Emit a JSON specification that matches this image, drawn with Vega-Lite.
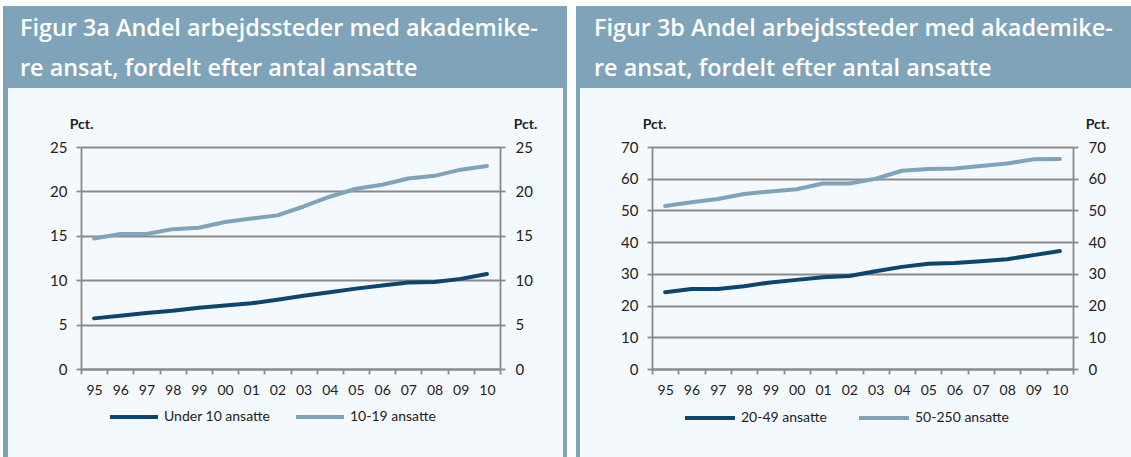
{
  "$schema": "https://vega.github.io/schema/vega-lite/v6.json",
  "background": "#f4f9fd",
  "padding": 0,
  "spacing": 0,
  "config": {"view": {"stroke": null}, "font": "Lato", "concat": {"spacing": 0}},
  "resolve": {"scale": {"color": "independent"}, "legend": {"color": "independent"}},
  "data": {"values": [{}]},
  "datasets": {
    "a": [
      {"year": "95", "series": "Under 10 ansatte", "value": 5.7},
      {"year": "96", "series": "Under 10 ansatte", "value": 6.0},
      {"year": "97", "series": "Under 10 ansatte", "value": 6.3},
      {"year": "98", "series": "Under 10 ansatte", "value": 6.55},
      {"year": "99", "series": "Under 10 ansatte", "value": 6.9},
      {"year": "00", "series": "Under 10 ansatte", "value": 7.15},
      {"year": "01", "series": "Under 10 ansatte", "value": 7.4},
      {"year": "02", "series": "Under 10 ansatte", "value": 7.8},
      {"year": "03", "series": "Under 10 ansatte", "value": 8.25},
      {"year": "04", "series": "Under 10 ansatte", "value": 8.65},
      {"year": "05", "series": "Under 10 ansatte", "value": 9.05},
      {"year": "06", "series": "Under 10 ansatte", "value": 9.4},
      {"year": "07", "series": "Under 10 ansatte", "value": 9.75},
      {"year": "08", "series": "Under 10 ansatte", "value": 9.8},
      {"year": "09", "series": "Under 10 ansatte", "value": 10.15},
      {"year": "10", "series": "Under 10 ansatte", "value": 10.7},
      {"year": "95", "series": "10-19 ansatte", "value": 14.7},
      {"year": "96", "series": "10-19 ansatte", "value": 15.2},
      {"year": "97", "series": "10-19 ansatte", "value": 15.2},
      {"year": "98", "series": "10-19 ansatte", "value": 15.75},
      {"year": "99", "series": "10-19 ansatte", "value": 15.9},
      {"year": "00", "series": "10-19 ansatte", "value": 16.55},
      {"year": "01", "series": "10-19 ansatte", "value": 16.95},
      {"year": "02", "series": "10-19 ansatte", "value": 17.3},
      {"year": "03", "series": "10-19 ansatte", "value": 18.3},
      {"year": "04", "series": "10-19 ansatte", "value": 19.4},
      {"year": "05", "series": "10-19 ansatte", "value": 20.3},
      {"year": "06", "series": "10-19 ansatte", "value": 20.75},
      {"year": "07", "series": "10-19 ansatte", "value": 21.45},
      {"year": "08", "series": "10-19 ansatte", "value": 21.75},
      {"year": "09", "series": "10-19 ansatte", "value": 22.45},
      {"year": "10", "series": "10-19 ansatte", "value": 22.85}
    ],
    "b": [
      {"year": "95", "series": "20-49 ansatte", "value": 24.2},
      {"year": "96", "series": "20-49 ansatte", "value": 25.25},
      {"year": "97", "series": "20-49 ansatte", "value": 25.2},
      {"year": "98", "series": "20-49 ansatte", "value": 26.1},
      {"year": "99", "series": "20-49 ansatte", "value": 27.3},
      {"year": "00", "series": "20-49 ansatte", "value": 28.1},
      {"year": "01", "series": "20-49 ansatte", "value": 28.9},
      {"year": "02", "series": "20-49 ansatte", "value": 29.3},
      {"year": "03", "series": "20-49 ansatte", "value": 30.8},
      {"year": "04", "series": "20-49 ansatte", "value": 32.2},
      {"year": "05", "series": "20-49 ansatte", "value": 33.2},
      {"year": "06", "series": "20-49 ansatte", "value": 33.4},
      {"year": "07", "series": "20-49 ansatte", "value": 34.0},
      {"year": "08", "series": "20-49 ansatte", "value": 34.6},
      {"year": "09", "series": "20-49 ansatte", "value": 35.9},
      {"year": "10", "series": "20-49 ansatte", "value": 37.2},
      {"year": "95", "series": "50-250 ansatte", "value": 51.4},
      {"year": "96", "series": "50-250 ansatte", "value": 52.6},
      {"year": "97", "series": "50-250 ansatte", "value": 53.6},
      {"year": "98", "series": "50-250 ansatte", "value": 55.2},
      {"year": "99", "series": "50-250 ansatte", "value": 56.0},
      {"year": "00", "series": "50-250 ansatte", "value": 56.7},
      {"year": "01", "series": "50-250 ansatte", "value": 58.5},
      {"year": "02", "series": "50-250 ansatte", "value": 58.5},
      {"year": "03", "series": "50-250 ansatte", "value": 60.0},
      {"year": "04", "series": "50-250 ansatte", "value": 62.5},
      {"year": "05", "series": "50-250 ansatte", "value": 63.1},
      {"year": "06", "series": "50-250 ansatte", "value": 63.2},
      {"year": "07", "series": "50-250 ansatte", "value": 64.0},
      {"year": "08", "series": "50-250 ansatte", "value": 64.8},
      {"year": "09", "series": "50-250 ansatte", "value": 66.1},
      {"year": "10", "series": "50-250 ansatte", "value": 66.2}
    ]
  },
  "vconcat": [
    {"width": 1131, "height": 6, "mark": {"type": "rect", "color": "#ffffff"}, "encoding": {}},
    {
      "spacing": 0,
      "resolve": {"scale": {"color": "independent"}, "legend": {"color": "independent"}},
      "hconcat": [
        {"width": 3, "height": 451, "mark": {"type": "rect", "color": "#ffffff"}, "encoding": {}},
        {"width": 5, "height": 451, "mark": {"type": "rect", "color": "#7fa3b8"}, "encoding": {}},
        {
          "spacing": 0,
          "resolve": {"scale": {"color": "independent"}, "legend": {"color": "independent"}},
          "vconcat": [
            {
              "width": 555, "height": 82, "view": {"fill": "#7fa3b8"},
              "data": {"values": [{"line": 1, "text": "Figur 3a Andel arbejdssteder med akademike-"}, {"line": 2, "text": "re ansat, fordelt efter antal ansatte"}]},
              "mark": {"type": "text", "align": "left", "baseline": "alphabetic", "color": "#ffffff", "font": "Open Sans", "fontWeight": 600, "fontSize": 23.4, "dx": 12},
              "encoding": {
                "x": {"datum": 0, "type": "quantitative", "scale": {"domain": [0, 1], "nice": false}, "axis": null},
                "y": {"field": "line", "type": "quantitative", "scale": {"domain": [0.25, 2.3], "reverse": true, "nice": false, "zero": false}, "axis": null},
                "text": {"field": "text"}
              }
            },
            {"width": 555, "height": 29, "mark": {"type": "rect", "opacity": 0}, "encoding": {}},
            {
              "spacing": 0,
              "bounds": "flush",
              "resolve": {"scale": {"color": "independent"}, "legend": {"color": "independent"}},
              "hconcat": [
                {"width": 73, "height": 222, "mark": {"type": "rect", "opacity": 0}, "encoding": {}},
                {
                  "width": 419, "height": 222,
                  "data": {"name": "a"},
                  "layer": [
                    {
                      "mark": {"type": "line", "strokeWidth": 4, "strokeCap": "round", "strokeJoin": "round"},
                      "encoding": {
                        "x": {"field": "year", "type": "ordinal", "sort": null, "scale": {"type": "band", "paddingInner": 0, "paddingOuter": 0},
                          "axis": {"title": null, "tickBand": "extent", "labelAngle": 0, "grid": false, "domainColor": "#8a8a8a", "domainWidth": 1.8, "tickColor": "#8a8a8a", "tickWidth": 1.8, "tickSize": 5, "labelFontSize": 14, "labelColor": "#222222", "labelPadding": 9}},
                        "y": {"field": "value", "type": "quantitative", "scale": {"domain": [0, 25], "nice": false},
                          "axis": {"values": [0, 5, 10, 15, 20, 25], "title": "Pct.", "titleAngle": 0, "titleX": 0, "titleY": -19, "titleAlign": "center", "titleBaseline": "alphabetic", "titleFontWeight": "bold", "titleFontSize": 14, "titleColor": "#222222", "grid": true, "gridColor": "#8a8a8a", "gridWidth": 1.8, "domainColor": "#8a8a8a", "domainWidth": 1.8, "tickColor": "#8a8a8a", "tickWidth": 1.8, "tickSize": 5, "labelPadding": 9, "labelFontSize": 15, "labelColor": "#222222"}},
                        "color": {"field": "series", "type": "nominal", "scale": {"domain": ["Under 10 ansatte", "10-19 ansatte"], "range": ["#0b4570", "#7fa3b8"]},
                          "legend": {"title": null, "orient": "none", "legendX": 27, "legendY": 244, "direction": "horizontal", "symbolType": "stroke", "symbolSize": 2304, "symbolStrokeWidth": 4, "labelFontSize": 14, "labelColor": "#222222", "columnPadding": 17, "padding": 0, "labelOffset": 4}}
                      }
                    },
                    {
                      "mark": {"type": "line", "opacity": 0},
                      "encoding": {
                        "x": {"field": "year", "type": "ordinal", "sort": null},
                        "y": {"field": "value", "type": "quantitative",
                          "axis": {"orient": "right", "values": [0, 5, 10, 15, 20, 25], "title": "Pct.", "titleAngle": 0, "titleX": 25, "titleY": -19, "titleAlign": "center", "titleBaseline": "alphabetic", "titleFontWeight": "bold", "titleFontSize": 14, "titleColor": "#222222", "grid": false, "domainColor": "#8a8a8a", "domainWidth": 1.8, "tickColor": "#8a8a8a", "tickWidth": 1.8, "tickSize": 5, "labelPadding": 10, "labelFontSize": 15, "labelColor": "#222222"}},
                        "detail": {"field": "series"}
                      }
                    }
                  ],
                  "resolve": {"axis": {"y": "independent"}}
                },
                {"width": 63, "height": 222, "mark": {"type": "rect", "opacity": 0}, "encoding": {}}
              ]
            }
          ]
        },
        {"width": 4, "height": 451, "mark": {"type": "rect", "color": "#7fa3b8"}, "encoding": {}},
        {"width": 9, "height": 451, "mark": {"type": "rect", "color": "#ffffff"}, "encoding": {}},
        {"width": 4, "height": 451, "mark": {"type": "rect", "color": "#7fa3b8"}, "encoding": {}},
        {
          "spacing": 0,
          "resolve": {"scale": {"color": "independent"}, "legend": {"color": "independent"}},
          "vconcat": [
            {
              "width": 551, "height": 82, "view": {"fill": "#7fa3b8"},
              "data": {"values": [{"line": 1, "text": "Figur 3b Andel arbejdssteder med akademike-"}, {"line": 2, "text": "re ansat, fordelt efter antal ansatte"}]},
              "mark": {"type": "text", "align": "left", "baseline": "alphabetic", "color": "#ffffff", "font": "Open Sans", "fontWeight": 600, "fontSize": 23.4, "dx": 14},
              "encoding": {
                "x": {"datum": 0, "type": "quantitative", "scale": {"domain": [0, 1], "nice": false}, "axis": null},
                "y": {"field": "line", "type": "quantitative", "scale": {"domain": [0.25, 2.3], "reverse": true, "nice": false, "zero": false}, "axis": null},
                "text": {"field": "text"}
              }
            },
            {"width": 551, "height": 29, "mark": {"type": "rect", "opacity": 0}, "encoding": {}},
            {
              "spacing": 0,
              "bounds": "flush",
              "resolve": {"scale": {"color": "independent"}, "legend": {"color": "independent"}},
              "hconcat": [
                {"width": 72, "height": 222, "mark": {"type": "rect", "opacity": 0}, "encoding": {}},
                {
                  "width": 421, "height": 222,
                  "data": {"name": "b"},
                  "layer": [
                    {
                      "mark": {"type": "line", "strokeWidth": 4, "strokeCap": "round", "strokeJoin": "round"},
                      "encoding": {
                        "x": {"field": "year", "type": "ordinal", "sort": null, "scale": {"type": "band", "paddingInner": 0, "paddingOuter": 0},
                          "axis": {"title": null, "tickBand": "extent", "labelAngle": 0, "grid": false, "domainColor": "#8a8a8a", "domainWidth": 1.8, "tickColor": "#8a8a8a", "tickWidth": 1.8, "tickSize": 5, "labelFontSize": 14, "labelColor": "#222222", "labelPadding": 9}},
                        "y": {"field": "value", "type": "quantitative", "scale": {"domain": [0, 70], "nice": false},
                          "axis": {"values": [0, 10, 20, 30, 40, 50, 60, 70], "title": "Pct.", "titleAngle": 0, "titleX": 2, "titleY": -19, "titleAlign": "center", "titleBaseline": "alphabetic", "titleFontWeight": "bold", "titleFontSize": 14, "titleColor": "#222222", "grid": true, "gridColor": "#8a8a8a", "gridWidth": 1.8, "domainColor": "#8a8a8a", "domainWidth": 1.8, "tickColor": "#8a8a8a", "tickWidth": 1.8, "tickSize": 5, "labelPadding": 9, "labelFontSize": 15, "labelColor": "#222222"}},
                        "color": {"field": "series", "type": "nominal", "scale": {"domain": ["20-49 ansatte", "50-250 ansatte"], "range": ["#0b4570", "#7fa3b8"]},
                          "legend": {"title": null, "orient": "none", "legendX": 31, "legendY": 244, "direction": "horizontal", "symbolType": "stroke", "symbolSize": 2500, "symbolStrokeWidth": 4, "labelFontSize": 14, "labelColor": "#222222", "columnPadding": 24, "padding": 0, "labelOffset": 4}}
                      }
                    },
                    {
                      "mark": {"type": "line", "opacity": 0},
                      "encoding": {
                        "x": {"field": "year", "type": "ordinal", "sort": null},
                        "y": {"field": "value", "type": "quantitative",
                          "axis": {"orient": "right", "values": [0, 10, 20, 30, 40, 50, 60, 70], "title": "Pct.", "titleAngle": 0, "titleX": 24, "titleY": -19, "titleAlign": "center", "titleBaseline": "alphabetic", "titleFontWeight": "bold", "titleFontSize": 14, "titleColor": "#222222", "grid": false, "domainColor": "#8a8a8a", "domainWidth": 1.8, "tickColor": "#8a8a8a", "tickWidth": 1.8, "tickSize": 5, "labelPadding": 10, "labelFontSize": 15, "labelColor": "#222222"}},
                        "detail": {"field": "series"}
                      }
                    }
                  ],
                  "resolve": {"axis": {"y": "independent"}}
                },
                {"width": 58, "height": 222, "mark": {"type": "rect", "opacity": 0}, "encoding": {}}
              ]
            }
          ]
        }
      ]
    }
  ]
}
